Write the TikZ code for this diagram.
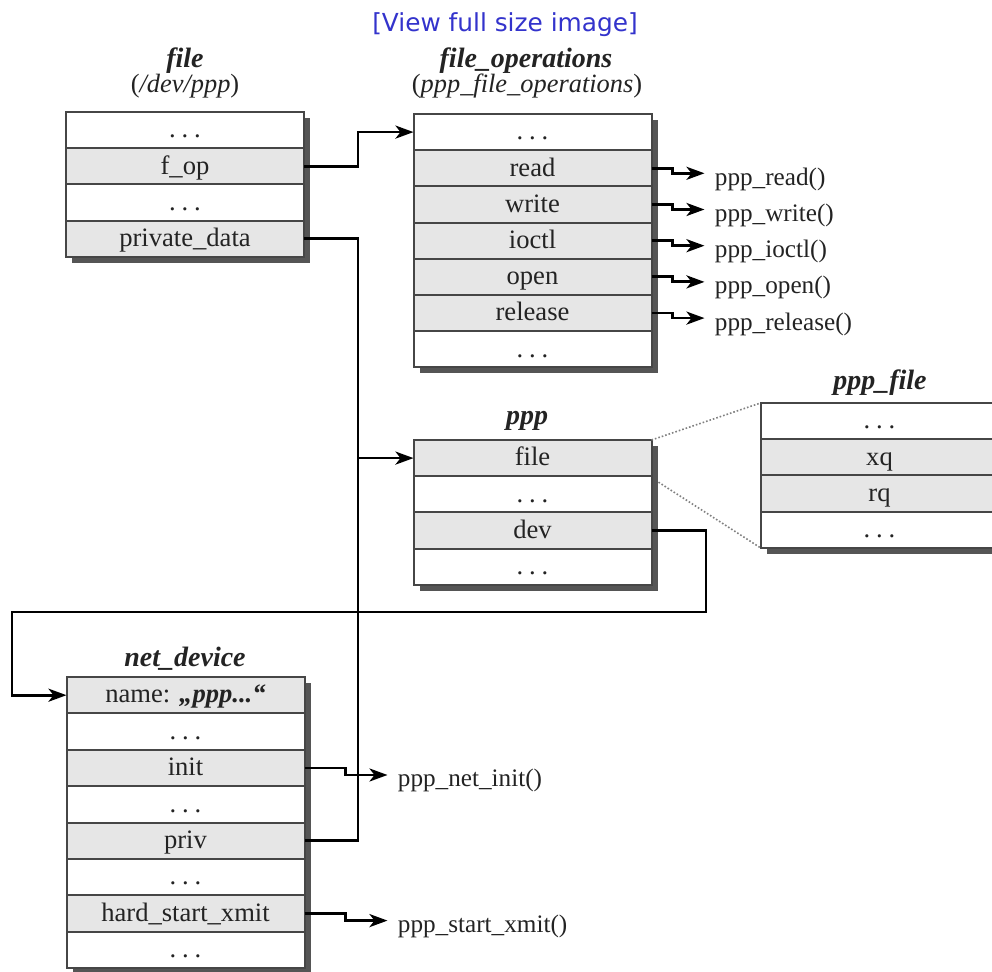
\documentclass[tikz,border=0pt]{standalone}
\usepackage{fontspec}
\setmainfont{Liberation Serif}
\newfontfamily\webfont{DejaVu Sans}
\usetikzlibrary{arrows.meta,positioning,backgrounds,calc}

\definecolor{rowgray}{RGB}{230,230,230}
\definecolor{edgegray}{RGB}{70,70,70}
\definecolor{shadowgray}{RGB}{85,85,85}
\definecolor{inkgray}{RGB}{35,35,35}
\definecolor{linkblue}{RGB}{51,51,204}

% spaced dots for elided structure members
\newcommand\fielddots{.\hspace{0.22em}.\hspace{0.22em}.}

\tikzset{
  fld/.style={draw=edgegray, line width=1pt, fill=white, outer sep=0pt,
    minimum width=119pt, inner sep=0pt, text height=13pt, text depth=5.1pt,
    font=\fontsize{13.3}{15}\selectfont, text=inkgray},
  fldg/.style={fld, fill=rowgray},
  nfld/.style={fld, text depth=5.2pt},
  nfldg/.style={nfld, fill=rowgray},
  title/.style={anchor=base, inner sep=0pt, text=inkgray,
    font=\fontsize{14}{16}\selectfont\bfseries\itshape},
  subtitle/.style={anchor=base, inner sep=0pt, text=inkgray,
    font=\fontsize{13.2}{16}\selectfont},
  fn/.style={anchor=west, inner xsep=5pt, inner ysep=0pt, text height=12pt,
    text depth=0pt, text=inkgray, font=\fontsize{12.6}{15}\selectfont},
  conn/.style={draw=black, line width=1.4pt},
  arr/.style={conn, -{Stealth[length=9pt, width=6.5pt, inset=2.5pt]}},
  dotline/.style={draw=gray, line width=0.8pt, densely dotted},
}

\begin{document}
\begin{tikzpicture}[x=0.5pt, y=-0.5pt]
\useasboundingbox (0,0) rectangle (992,972);

% header link
\node[anchor=base, inner sep=0pt, text=linkblue,
  font=\fontsize{12.4}{15}\webfont] (view) at (505,32) {[View full size image]};

% struct file
\node[title] (tfile) at (185,68) {file};
\node[subtitle] (tfile2) at (185,93) {(\textit{/dev/ppp})};
\node[fld] (f1) at (185,130.1) {\fielddots};
\node[fldg, below=0pt of f1] (f2) {f\_op};
\node[fld,  below=0pt of f2] (f3) {\fielddots};
\node[fldg, below=0pt of f3] (f4) {private\_data};

% struct file_operations
\node[title] (tops) at (526,68) {file\_operations};
\node[subtitle] (tops2) at (527,93) {(\textit{ppp\_file\_operations})};
\node[fld] (o1) at (532.5,132.1) {\fielddots};
\node[fldg, below=0pt of o1] (o2) {read};
\node[fldg, below=0pt of o2] (o3) {write};
\node[fldg, below=0pt of o3] (o4) {ioctl};
\node[fldg, below=0pt of o4] (o5) {open};
\node[fldg, below=0pt of o5] (o6) {release};
\node[fld,  below=0pt of o6] (o7) {\fielddots};

% struct ppp
\node[title] (tppp) at (527,425) {ppp};
\node[fldg] (p1) at (532.5,458.1) {file};
\node[fld,  below=0pt of p1] (p2) {\fielddots};
\node[fldg, below=0pt of p2] (p3) {dev};
\node[fld,  below=0pt of p3] (p4) {\fielddots};

% struct ppp_file
\node[title] (tpf) at (880,390) {ppp\_file};
\node[fld] (q1) at (879.5,421.1) {\fielddots};
\node[fldg, below=0pt of q1] (q2) {xq};
\node[fldg, below=0pt of q2] (q3) {rq};
\node[fld,  below=0pt of q3] (q4) {\fielddots};

% struct net_device
\node[title] (tnd) at (185,667) {net\_device};
\node[nfldg] (n1) at (185.5,695.2) {name: \textbf{\textit{„ppp...“}}};
\node[nfld,  below=0pt of n1] (n2) {\fielddots};
\node[nfldg, below=0pt of n2] (n3) {init};
\node[nfld,  below=0pt of n3] (n4) {\fielddots};
\node[nfldg, below=0pt of n4] (n5) {priv};
\node[nfld,  below=0pt of n5] (n6) {\fielddots};
\node[nfldg, below=0pt of n6] (n7) {hard\_start\_xmit};
\node[nfld,  below=0pt of n7] (n8) {\fielddots};

% drop shadows behind the structures
\begin{scope}[on background layer]
  \fill[white] (0,0) rectangle (992,972);
  \foreach \a/\b in {f1/f4, o1/o7, p1/p4, q1/q4, n1/n8}
    \fill[shadowgray] ([shift={(6,6)}]\a.north west)
      rectangle ([shift={(6,6)}]\b.south east);
\end{scope}

% file operations handlers
\node[fn] (hread)  at ($(o2.east)+(53,5)$) {ppp\_read()};
\node[fn] (hwrite) at ($(o3.east)+(53,5)$) {ppp\_write()};
\node[fn] (hioctl) at ($(o4.east)+(53,5)$) {ppp\_ioctl()};
\node[fn] (hopen)  at ($(o5.east)+(53,5)$) {ppp\_open()};
\node[fn] (hrel)   at ($(o6.east)+(53,5)$) {ppp\_release()};
\foreach \s/\t in {o2/hread, o3/hwrite, o4/hioctl, o5/hopen, o6/hrel}
  \draw[arr] (\s.east) -- ++(21,0) |- (\t.west);

% net device handlers
\node[fn] (hinit) at ($(n3.east)+(83,7)$) {ppp\_net\_init()};
\node[fn] (hxmit) at ($(n7.east)+(83,7)$) {ppp\_start\_xmit()};
\foreach \s/\t in {n3/hinit, n7/hxmit}
  \draw[arr] (\s.east) -- ++(41,0) |- (\t.west);

% pointer links
\coordinate (bus) at (358,0);
\draw[arr] (f2.east) -- (f2.east -| bus) |- (o1.west);
\draw[conn] (f4.east) -- (f4.east -| bus) -- (bus |- n5.east) -- (n5.east);
\draw[arr] (bus |- p1.west) -- (p1.west);

\coordinate (loopR) at (706,612);
\coordinate (loopL) at (12,612);
\draw[arr] (p3.east) -| (loopR) -- (loopL) |- (n1.west);

% zoom-out of the embedded ppp_file
\draw[dotline] (p1.north east) -- (q1.north west);
\draw[dotline] ($(p2.north east)+(7,6)$) -- (q4.south west);
\end{tikzpicture}
\end{document}
